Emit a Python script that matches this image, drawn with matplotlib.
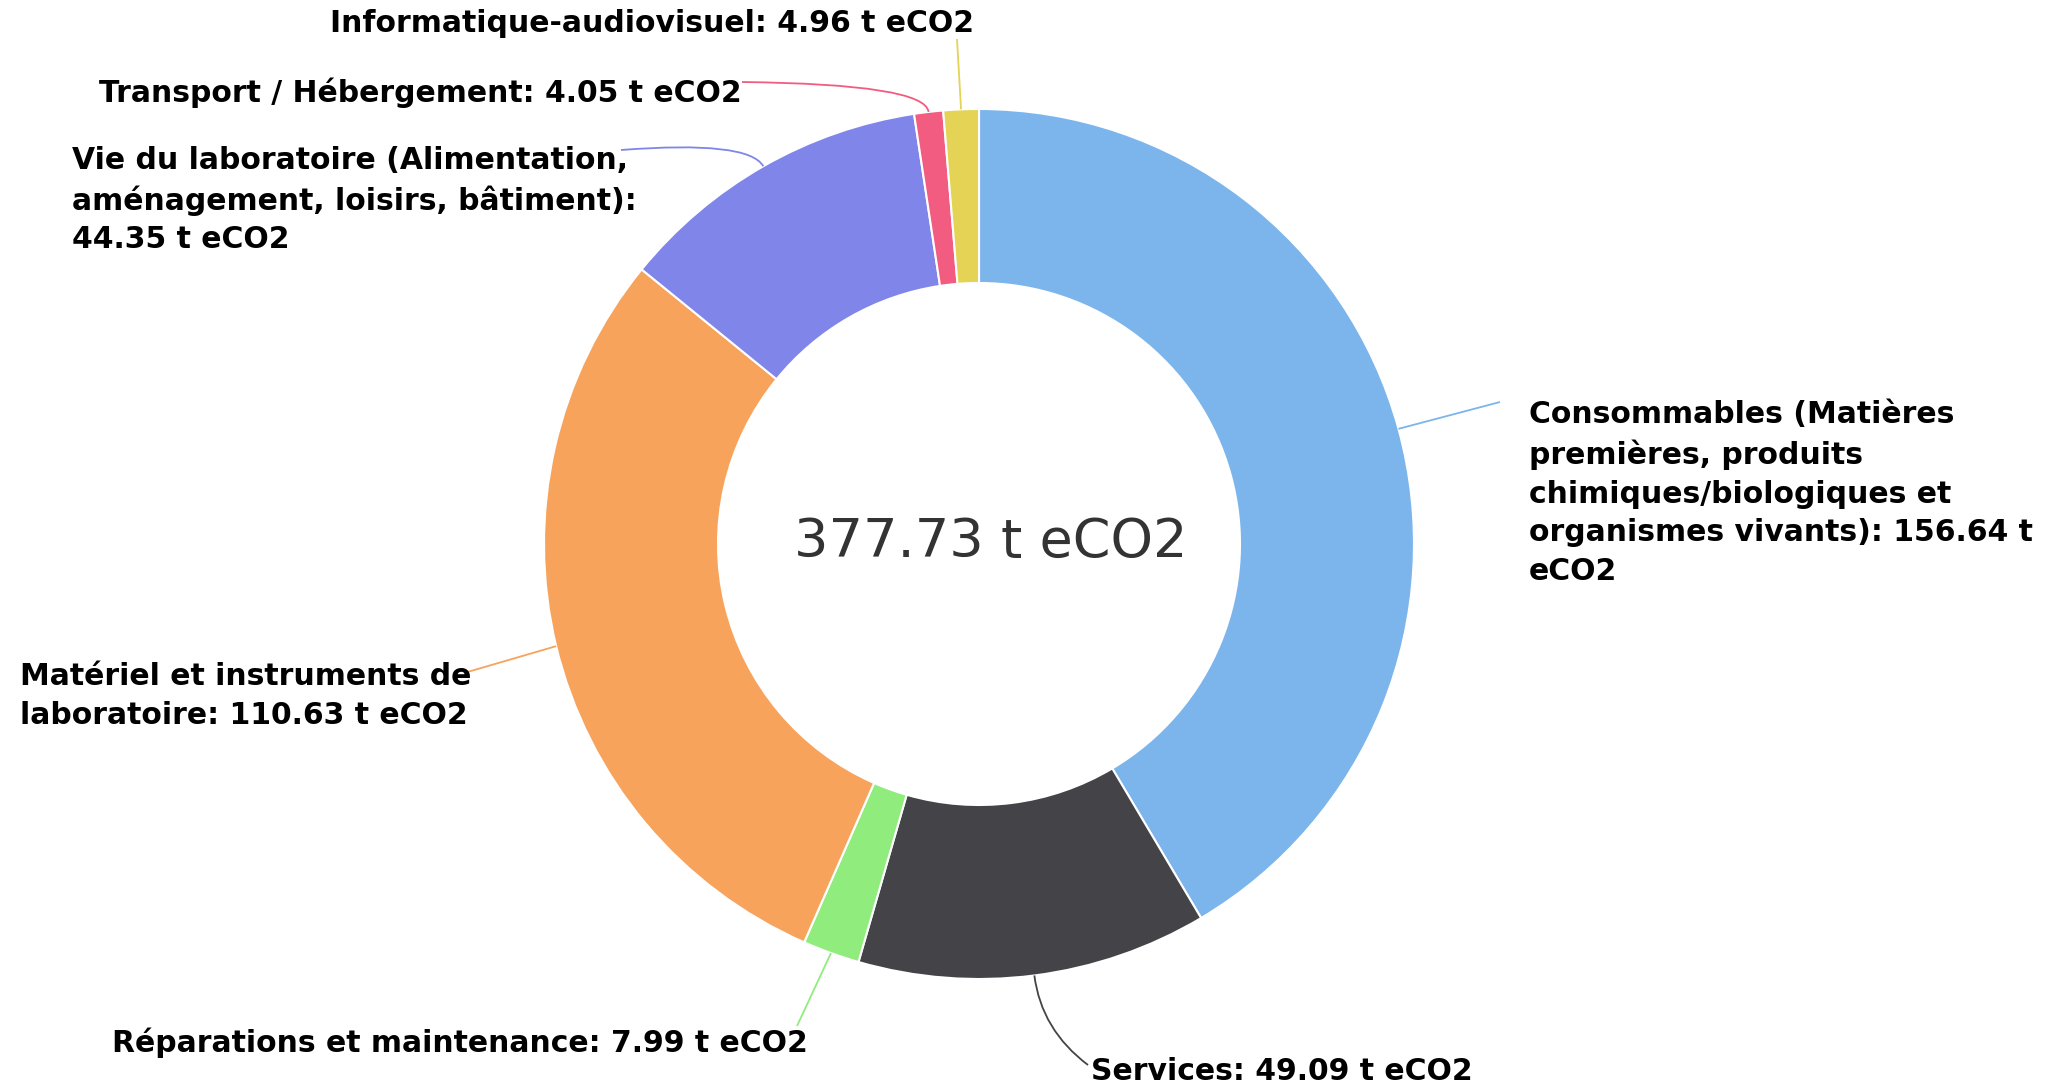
import numpy as np
import matplotlib.pyplot as plt
from matplotlib.path import Path
from matplotlib.patches import PathPatch

# donnees (t eCO2)
categories = ["Consommables (Matières premières, produits chimiques/biologiques et organismes vivants)",
              "Services",
              "Réparations et maintenance",
              "Matériel et instruments de laboratoire",
              "Vie du laboratoire (Alimentation, aménagement, loisirs, bâtiment)",
              "Transport / Hébergement",
              "Informatique-audiovisuel"]
values = [156.64, 49.09, 7.99, 110.63, 44.35, 4.05, 4.96]
total_label = "377.73 t eCO2"
colors = ["#7cb5ec", "#434348", "#90ed7d", "#f7a35c", "#8085e9", "#f15c80", "#e4d354"]

# etiquettes, avec les retours a la ligne du graphique
label_texts = ["Consommables (Matières\npremières, produits\nchimiques/biologiques et\norganismes vivants): 156.64 t\neCO2",
               "Services: 49.09 t eCO2",
               "Réparations et maintenance: 7.99 t eCO2",
               "Matériel et instruments de\nlaboratoire: 110.63 t eCO2",
               "Vie du laboratoire (Alimentation,\naménagement, loisirs, bâtiment):\n44.35 t eCO2",
               "Transport / Hébergement: 4.05 t eCO2",
               "Informatique-audiovisuel: 4.96 t eCO2"]

W, H = 2049, 1090
fig = plt.figure(figsize=(W / 100, H / 100), dpi=100)
ax = fig.add_axes([0, 0, 1, 1])

cx, cy, R = 979, H - 544, 435
wedges, _ = ax.pie(values, colors=colors, radius=R, center=(cx, cy), startangle=90,
                   counterclock=False, wedgeprops=dict(width=R * 0.4, edgecolor='white', linewidth=1.5),
                   frame=True)
ax.set_xlim(0, W)
ax.set_ylim(0, H)
ax.axis('off')

ax.text(991, H - 542, total_label, ha='center', va='center', fontsize=39,
        color='#333333', family='DejaVu Sans')

# placement : (x, y centre du bloc depuis le haut, ha, coude radial, fin du trait)
layout = [
    (1529, 493, 'left', 0, (1500, 402)),
    (1091, 1072, 'left', 55, (1088, 1065)),
    (808, 1043, 'right', 0, (797, 1026)),
    (20, 696, 'left', 0, (464, 673)),
    (72, 200, 'left', 30, (621, 150)),
    (742, 93, 'right', 28, (742, 82)),
    (652, 24, 'center', 0, (957, 39)),
]

for w, txt, col, (tx, ty, ha, elb, end) in zip(wedges, label_texts, colors, layout):
    ang = np.deg2rad((w.theta1 + w.theta2) / 2)
    start = (cx + R * np.cos(ang), cy + R * np.sin(ang))
    stop = (end[0], H - end[1])
    if elb:
        ctrl = (cx + (R + elb) * np.cos(ang), cy + (R + elb) * np.sin(ang))
        path = Path([start, ctrl, stop], [Path.MOVETO, Path.CURVE3, Path.CURVE3])
    else:
        path = Path([start, stop], [Path.MOVETO, Path.LINETO])
    ax.add_patch(PathPatch(path, facecolor='none', edgecolor=col, lw=1.3))
    ax.text(tx, H - ty, txt, ha=ha, va='center',
            fontsize=21.5, fontweight='bold', family='DejaVu Sans', color='black',
            linespacing=1.42)

fig.savefig('out.png', dpi=100)
